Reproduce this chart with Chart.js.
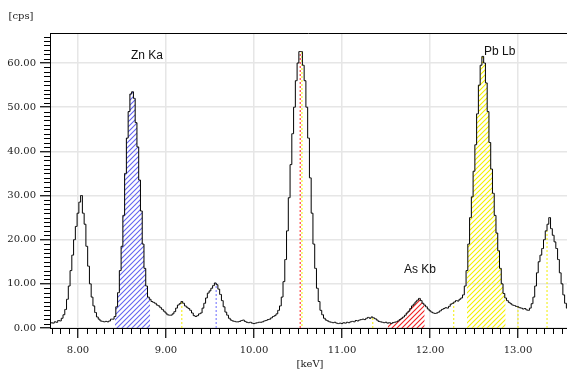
<!DOCTYPE html>
<html>
<head>
<meta charset="utf-8">
<script src="https://cdn.jsdelivr.net/npm/chart.js@4.4.1/dist/chart.umd.min.js"></script>
<style>
html,body{margin:0;padding:0;background:#fff;}
#wrap{width:567px;height:370px;position:relative;}
</style>
</head>
<body>
<div id="wrap"><canvas id="c" width="567" height="370"></canvas></div>
<script>
// ---- data ----
const startEnergy = 7.66;     // keV of first channel
const channelWidth = 0.02;    // keV per channel
const counts = [
  1.0,0.9,1.2,1.1,1.4,1.3,1.7,1.6,2.2,3.0,
  4.2,6.5,9.5,13.0,16.5,20.0,23.0,26.0,28.5,30.0,
  26.0,23.5,18.5,14.0,10.0,7.0,5.0,3.5,2.5,2.0,
  1.6,1.5,1.4,1.5,1.4,1.6,2.0,2.0,2.6,4.8,
  8.0,13.0,18.5,25.5,35.0,43.0,49.0,53.0,53.5,52.0,
  46.5,41.0,33.5,26.5,19.0,13.5,9.5,7.0,6.5,6.0,
  5.8,5.6,5.2,5.0,4.6,4.2,3.8,3.4,3.0,2.9,
  2.9,3.2,3.7,4.5,5.2,5.5,6.0,5.6,5.0,4.7,
  4.4,4.0,3.4,2.8,2.6,2.8,3.2,3.4,4.5,5.6,
  6.8,7.9,8.4,9.0,9.6,10.2,9.8,8.8,7.6,6.2,
  4.8,3.6,2.9,2.2,1.8,1.6,1.5,1.4,1.4,1.5,
  1.7,1.8,1.5,1.3,1.2,1.3,1.1,1.0,1.1,1.2,
  1.3,1.3,1.4,1.6,1.7,1.9,2.0,2.3,2.6,2.8,
  3.2,4.0,5.0,7.0,10.5,15.5,22.0,29.5,37.0,44.0,
  50.0,56.0,60.0,62.6,62.6,59.5,56.0,50.0,43.0,34.0,
  26.0,19.0,13.5,9.0,6.0,4.0,3.0,2.2,1.8,1.6,
  1.4,1.3,1.2,1.3,1.1,1.0,1.1,1.0,1.2,1.1,
  1.3,1.2,1.4,1.5,1.4,1.7,1.6,1.8,1.9,2.0,
  1.9,2.2,2.4,2.2,2.5,2.3,2.1,1.8,1.5,1.4,
  1.3,1.2,1.3,1.1,1.2,1.0,1.2,1.3,1.4,1.6,
  1.9,2.2,2.5,2.9,3.4,3.8,4.4,5.0,5.4,5.9,
  6.3,6.7,6.2,5.6,5.2,4.8,4.3,3.9,3.6,3.4,
  3.3,3.4,3.6,3.9,4.2,4.4,4.6,4.5,4.9,5.4,
  5.6,5.9,6.2,6.1,6.5,6.8,7.5,9.5,13.0,19.0,
  25.0,29.7,35.5,41.5,48.5,55.0,59.5,61.5,60.0,55.5,
  49.0,42.0,36.0,30.5,25.5,21.5,17.5,13.5,10.0,7.8,
  6.8,6.2,5.8,5.5,5.2,5.1,4.9,4.8,4.6,4.5,
  4.3,4.4,4.1,4.0,4.5,5.5,7.0,9.5,12.5,15.0,
  16.5,18.0,20.0,22.0,23.5,25.0,22.5,21.0,19.5,18.0,
  15.5,12.5,10.0,7.5,5.6,4.5
];

// hatched peak regions
const regionNames  = ['Zn Ka', 'As Kb', 'Pb Lb'];
const regionStart  = [8.42, 11.52, 12.42];
const regionEnd    = [8.82, 11.94, 12.86];
const regionColors = ['#6464f0', '#f02020', '#f4f000'];
// label anchors (keV, cps)
const labelEnergy = [8.784, 11.886, 12.792];
const labelCps    = [61.6, 13.1, 62.5];

// dotted element marker lines
const markerEnergy = [9.18, 9.57, 10.525, 10.545, 11.35, 12.27, 13.00, 13.33];
const markerColor  = ['#f2ee00', '#6a6aff', '#ff1a1a', '#f2ee00', '#f2ee00', '#f2ee00', '#f2ee00', '#f2ee00'];

const xTickValues = [8, 9, 10, 11, 12, 13];
const yTickValues = [0, 10, 20, 30, 40, 50, 60];

// ---- build ----
const energies = counts.map((_, i) => +(startEnergy + i * channelWidth).toFixed(2));
const spectrum = counts.map((v, i) => ({x: energies[i], y: v}));
function countAt(e){
  let best = 0;
  for (let i = 1; i < energies.length; i++) if (Math.abs(energies[i]-e) < Math.abs(energies[best]-e)) best = i;
  return counts[best];
}
function hatch(color){
  const s = 5;
  const c = document.createElement('canvas');
  c.width = s; c.height = s;
  const g = c.getContext('2d');
  g.strokeStyle = color; g.lineWidth = 1.1;
  g.beginPath();
  g.moveTo(0, s); g.lineTo(s, 0);
  g.moveTo(-s, s); g.lineTo(s - s, 0 + 0); // corner pieces
  g.moveTo(-1, 1); g.lineTo(1, -1);
  g.moveTo(s - 1, s + 1); g.lineTo(s + 1, s - 1);
  g.stroke();
  return g.createPattern(c, 'repeat');
}

const datasets = [];
datasets.push({
  data: spectrum, stepped: 'middle', borderColor: '#000', borderWidth: 1,
  pointRadius: 0, fill: false, order: 0
});
markerEnergy.forEach((e, i) => {
  datasets.push({
    data: [{x: e, y: 0}, {x: e, y: countAt(e)}],
    borderColor: markerColor[i], borderWidth: 1, borderDash: [2, 2],
    borderDashOffset: (i === 3 ? 2 : 0),
    pointRadius: 0, fill: false, order: 1
  });
});
regionNames.forEach((n, r) => {
  const pts = spectrum.filter(p => p.x >= regionStart[r] - 1e-6 && p.x <= regionEnd[r] + 1e-6);
  datasets.push({
    data: pts, stepped: 'middle', borderWidth: 0, borderColor: 'rgba(0,0,0,0)',
    backgroundColor: hatch(regionColors[r]), fill: 'origin', pointRadius: 0, order: 2
  });
});

const serif = "'DejaVu Serif', serif";
const deco = {
  id: 'deco',
  afterDraw(chart){
    const {ctx, chartArea: a, scales: {x, y}} = chart;
    ctx.save();
    ctx.strokeStyle = '#000'; ctx.lineWidth = 1;
    ctx.beginPath();
    for (let k = Math.ceil(x.min * 10); k <= Math.floor(x.max * 10); k++){
      if (k % 10 === 0) continue;
      const px = Math.round(x.getPixelForValue(k / 10)) + 0.5;
      ctx.moveTo(px, a.bottom); ctx.lineTo(px, a.bottom + 6);
    }
    for (let k = 1; k <= Math.floor(y.max); k++){
      if (k % 10 === 0) continue;
      const py = Math.round(y.getPixelForValue(k)) + 0.5;
      ctx.moveTo(a.left, py); ctx.lineTo(a.left - 6, py);
    }
    ctx.moveTo(a.left, a.top + 0.5); ctx.lineTo(a.right, a.top + 0.5);
    ctx.stroke();
    // peak labels
    ctx.fillStyle = '#111';
    ctx.font = "12px 'Liberation Sans', Arial, sans-serif";
    ctx.textAlign = 'center'; ctx.textBaseline = 'middle';
    regionNames.forEach((n, i) => {
      ctx.fillText(n, x.getPixelForValue(labelEnergy[i]), y.getPixelForValue(labelCps[i]));
    });
    // unit labels
    ctx.fillStyle = '#222';
    ctx.font = "10px " + serif;
    ctx.fillText('[cps]', 21, 16);
    ctx.fillText('[keV]', 310, 364);
    ctx.restore();
  }
};

new Chart(document.getElementById('c'), {
  type: 'line',
  data: {datasets},
  options: {
    responsive: false, animation: false, devicePixelRatio: 1,
    layout: {padding: {top: 33, right: 0, left: 0, bottom: 0}},
    plugins: {legend: {display: false}, tooltip: {enabled: false}},
    scales: {
      x: {
        type: 'linear', min: 7.682, max: 13.557,
        afterFit(s){ s.height = 42; },
        afterBuildTicks(s){ s.ticks = xTickValues.map(v => ({value: v})); },
        ticks: {color: '#222', font: {family: serif, size: 10}, padding: 6,
                callback: v => Number(v).toFixed(2), maxRotation: 0, autoSkip: false},
        grid: {color: '#e6e6e6', lineWidth: 1.5, tickColor: '#000', tickLength: 10, tickWidth: 1.2},
        border: {color: '#000', width: 1}
      },
      y: {
        type: 'linear', min: 0, max: 66.8,
        afterFit(s){ s.width = 50; },
        afterBuildTicks(s){ s.ticks = yTickValues.map(v => ({value: v})); },
        ticks: {color: '#222', font: {family: serif, size: 10}, padding: 4,
                callback: v => Number(v).toFixed(2), autoSkip: false},
        grid: {color: '#e6e6e6', lineWidth: 1.5, tickColor: '#000', tickLength: 10, tickWidth: 1.2},
        border: {color: '#000', width: 1}
      }
    }
  },
  plugins: [deco]
});
</script>
</body>
</html>
